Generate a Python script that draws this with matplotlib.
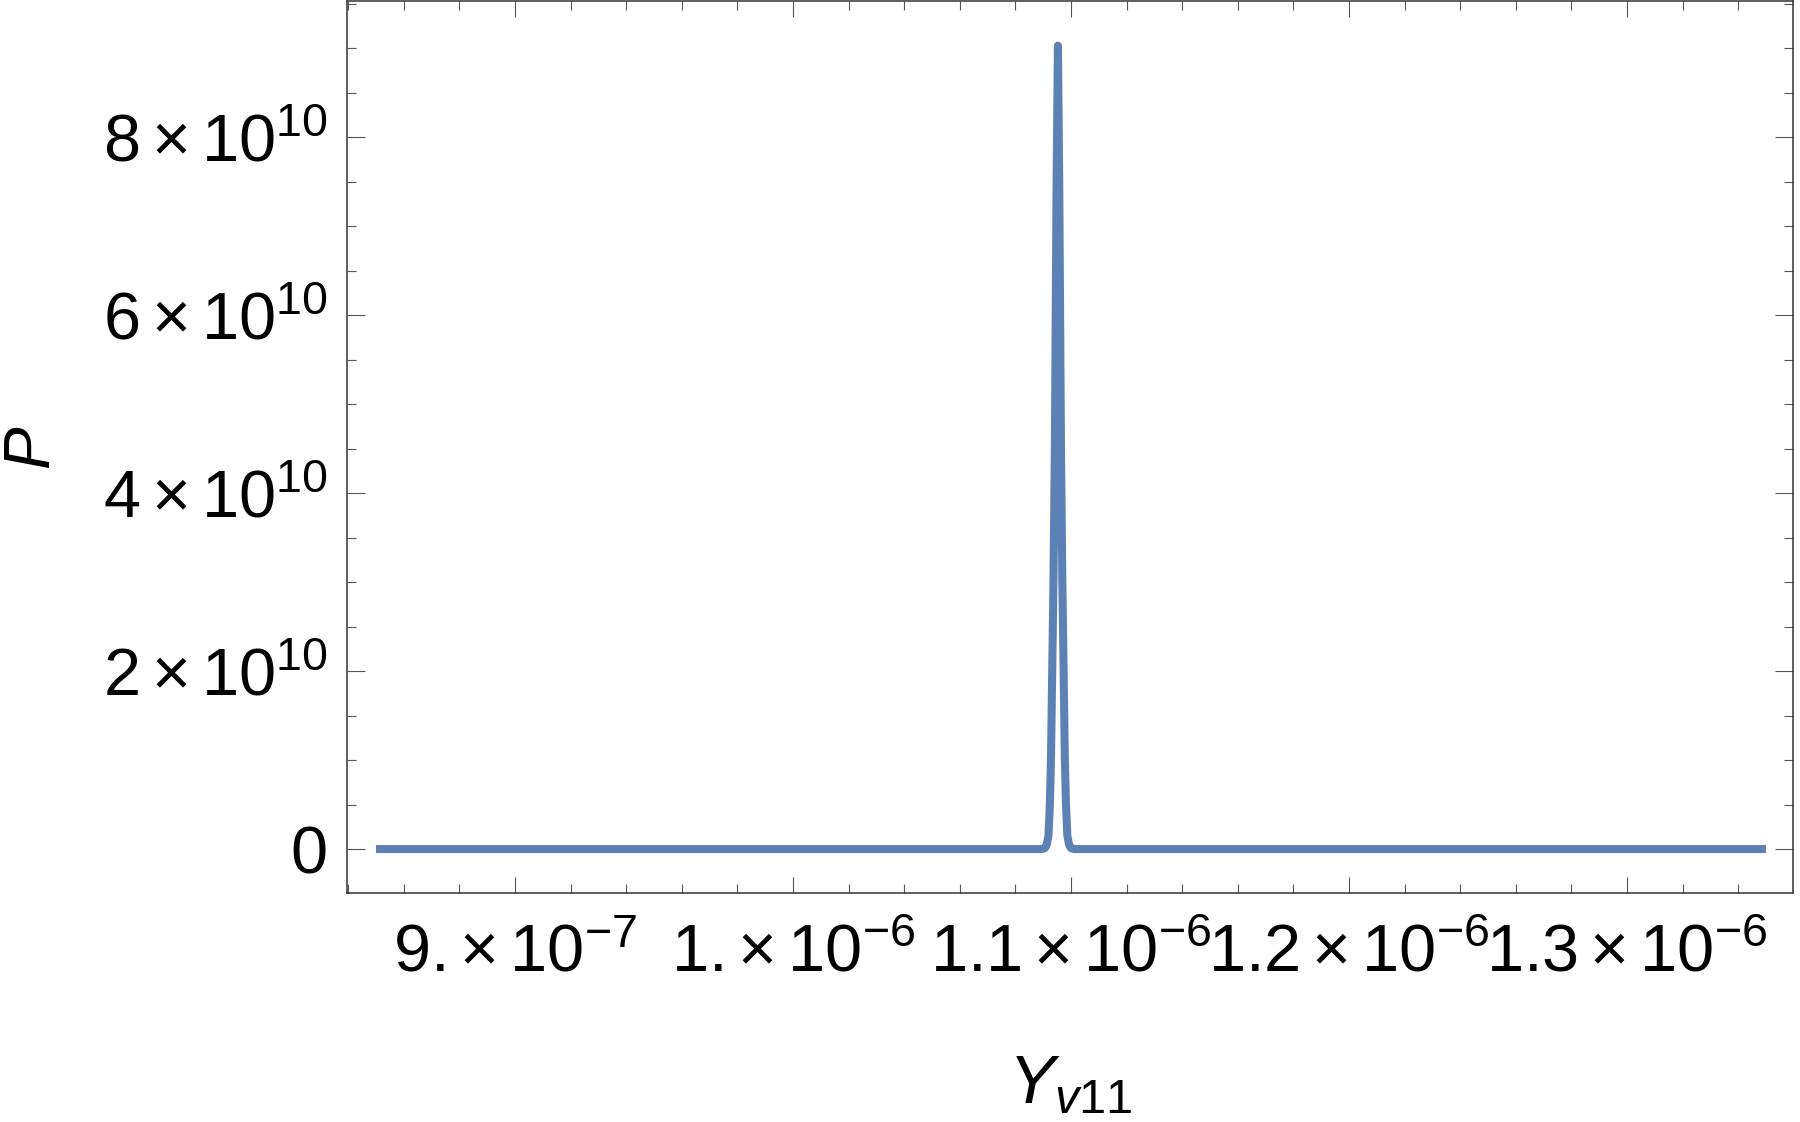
import numpy as np
import matplotlib
matplotlib.use("Agg")
import matplotlib.pyplot as plt
from matplotlib.ticker import FixedLocator, MultipleLocator

# Values (x in units of 1e-6, y in units of 1e10)
yv11 = [0.85, 1.0895, 1.0906, 1.0913, 1.0919, 1.0924, 1.0928, 1.0931,
        1.0937, 1.0942, 1.0948, 1.0953, 1.0958, 1.0964, 1.0969, 1.0975,
        1.0978, 1.0982, 1.0987, 1.0993, 1.1000, 1.1011, 1.35]
prob = [0.0, 0.0, 0.01, 0.05, 0.15, 0.5, 1.0, 1.67,
        3.0, 4.5, 7.4, 9.03, 7.4, 4.5, 3.0, 1.67,
        1.0, 0.5, 0.15, 0.05, 0.01, 0.0, 0.0]

xtick_vals = [0.9, 1.0, 1.1, 1.2, 1.3]
xtick_labels = [r'$9.\hspace{-0.2}\times10^{-7}$', r'$1.\hspace{-0.2}\times10^{-6}$',
                r'$1.1\times10^{-6}$', r'$1.2\times10^{-6}$', r'$1.3\times10^{-6}$']
ytick_vals = [0, 2, 4, 6, 8]
ytick_labels = ['0', r'$2\times10^{10}$', r'$4\times10^{10}$',
                r'$6\times10^{10}$', r'$8\times10^{10}$']

plt.rcParams['font.family'] = 'Liberation Sans'
plt.rcParams['mathtext.fontset'] = 'custom'
plt.rcParams['mathtext.rm'] = 'Liberation Sans'
plt.rcParams['mathtext.it'] = 'Liberation Sans:italic'
plt.rcParams['mathtext.bf'] = 'Liberation Sans:bold'

fig = plt.figure(figsize=(18, 11.22), dpi=100)
ax = fig.add_axes([0.1928, 0.2041, 0.8033, 0.7949])

x = np.array(yv11) * 1e-6
y = np.array(prob) * 1e10
ax.plot(x, y, color='#5E81B5', linewidth=5.8, solid_joinstyle='round',
        solid_capstyle='butt')

ax.set_xlim(0.8396e-6, 1.3597e-6)
ax.set_ylim(-0.494e10, 9.53e10)

ax.xaxis.set_major_locator(FixedLocator([v * 1e-6 for v in xtick_vals]))
ax.set_xticklabels(xtick_labels)
ax.xaxis.set_minor_locator(MultipleLocator(0.02e-6))
ax.yaxis.set_major_locator(FixedLocator([v * 1e10 for v in ytick_vals]))
ax.set_yticklabels(ytick_labels)
ax.yaxis.set_minor_locator(MultipleLocator(0.5e10))

ax.tick_params(which='both', direction='in', top=True, right=True,
               color='#555555', width=0.8, labelsize=48)
ax.tick_params(axis='x', which='major', length=11.5, pad=22)
ax.tick_params(axis='y', which='major', length=13, pad=14)
ax.tick_params(which='minor', length=6.5)
ax.tick_params(labeltop=False, labelright=False)

for s in ax.spines.values():
    s.set_color('#333333')
    s.set_linewidth(1.1)

ax.set_xlabel(r'$Y_{v11}$', fontsize=50)
ax.xaxis.set_label_coords(0.5, -0.18)
ax.set_ylabel('P', fontsize=46, fontstyle='italic')
ax.yaxis.set_label_coords(-0.198, 0.5)

fig.savefig('out.png', dpi=100)
